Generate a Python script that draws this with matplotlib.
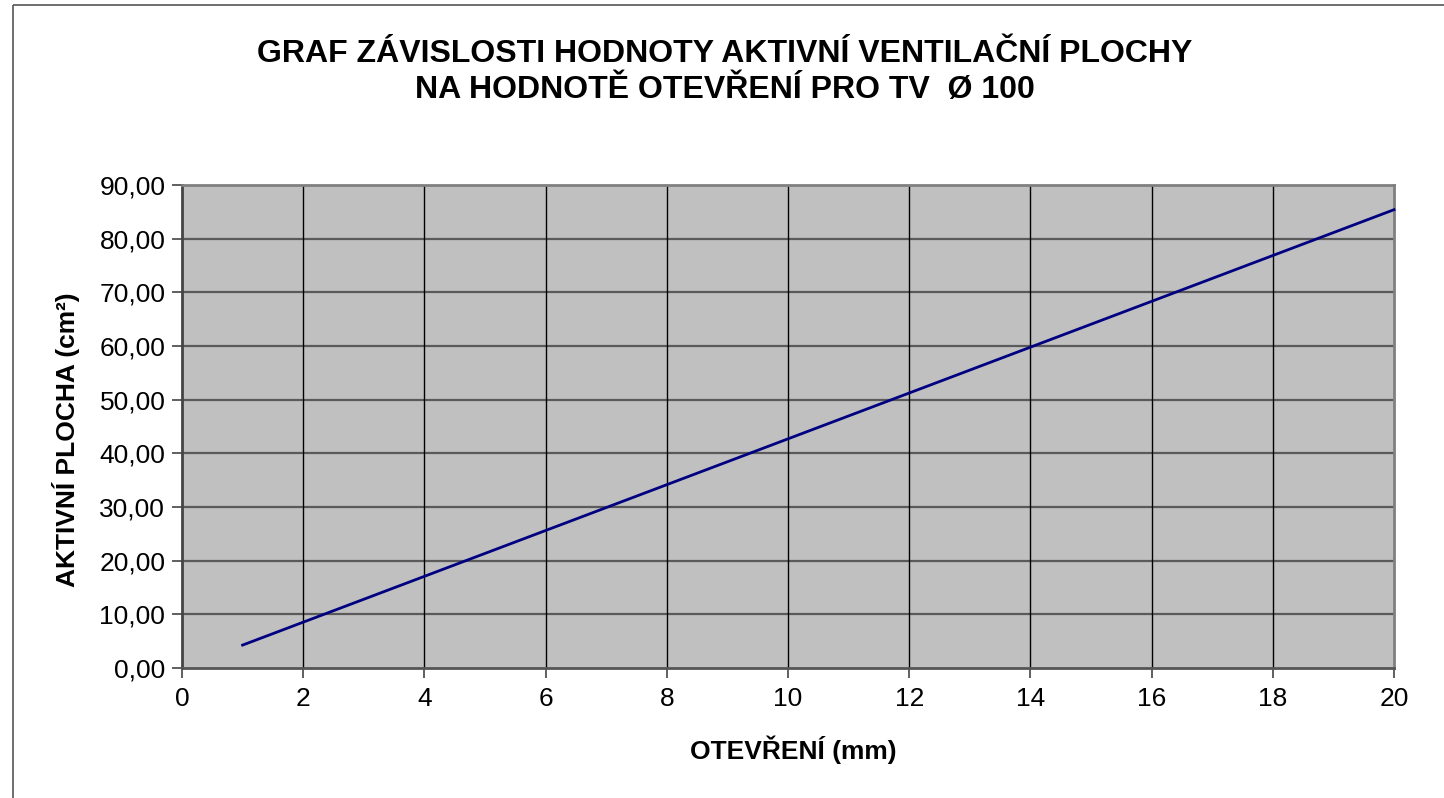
import matplotlib
matplotlib.use("Agg")
import matplotlib.pyplot as plt
from matplotlib.lines import Line2D

plt.rcParams['font.family'] = ['Liberation Sans', 'DejaVu Sans']

title = "GRAF ZÁVISLOSTI HODNOTY AKTIVNÍ VENTILAČNÍ PLOCHY\nNA HODNOTĚ OTEVŘENÍ PRO TV  Ø 100"
xlabel = "OTEVŘENÍ (mm)"
ylabel = "AKTIVNÍ PLOCHA (cm²)"

opening_mm = [1, 2, 3, 4, 5, 6, 7, 8, 9, 10, 11, 12, 13, 14, 15, 16, 17, 18, 19, 20]
area_cm2 = [4.27, 8.54, 12.81, 17.08, 21.35, 25.62, 29.89, 34.16, 38.43, 42.70,
            46.97, 51.24, 55.51, 59.78, 64.05, 68.32, 72.59, 76.86, 81.13, 85.40]

x_ticks = [0, 2, 4, 6, 8, 10, 12, 14, 16, 18, 20]
y_ticks = [0, 10, 20, 30, 40, 50, 60, 70, 80, 90]
y_tick_labels = ["0,00", "10,00", "20,00", "30,00", "40,00", "50,00", "60,00", "70,00", "80,00", "90,00"]

W, H = 1444, 798
fig = plt.figure(figsize=(W / 100, H / 100), dpi=100)
fig.patch.set_facecolor('white')

# outer frame (only left and top edges visible)
fx, fy = 13.5 / W, 1 - 4.5 / H
fig.lines.append(Line2D([fx, fx], [-0.05, fy], transform=fig.transFigure, color='#555555',
                        linewidth=1.2, solid_capstyle='butt'))
fig.lines.append(Line2D([fx, 1.05], [fy, fy], transform=fig.transFigure, color='#555555',
                        linewidth=1.2, solid_capstyle='butt'))

left, right, top, bottom = 182, 1394, 185, 668
ax = fig.add_axes([left / W, 1 - bottom / H, (right - left) / W, (bottom - top) / H])
ax.set_facecolor('#c0c0c0')

ax.set_xlim(0, 20)
ax.set_ylim(0, 90)
ax.set_xticks(x_ticks)
ax.set_yticks(y_ticks)
ax.set_yticklabels(y_tick_labels)

for yv in y_ticks[1:-1]:
    ax.axhline(yv, color='#5a5a5a', linewidth=1.6, zorder=1)
for xv in x_ticks[1:-1]:
    ax.axvline(xv, color='black', linewidth=1.0, zorder=1)

ax.plot(opening_mm, area_cm2, color='#000080', linewidth=2.0, zorder=3, clip_on=False)

for s in ax.spines.values():
    s.set_color('#808080')
    s.set_linewidth(2.0)
ax.spines['left'].set_color('#444444')
ax.spines['bottom'].set_color('#555555')

ax.tick_params(axis='both', direction='out', length=7, width=1.2, color='#444444',
               labelsize=19, labelcolor='black', pad=5)
ax.tick_params(axis='x', pad=7)

fig.text(725 / W, 1 - 72 / H, title, ha='center', va='center', fontsize=23,
         fontweight='bold', linespacing=1.25)
fig.text(793 / W, 1 - 750 / H, xlabel, ha='center', va='center', fontsize=19,
         fontweight='bold')
fig.text(66 / W, 1 - 440 / H, ylabel, ha='center', va='center', fontsize=19,
         fontweight='bold', rotation=90)

fig.savefig('out.png', dpi=100)
